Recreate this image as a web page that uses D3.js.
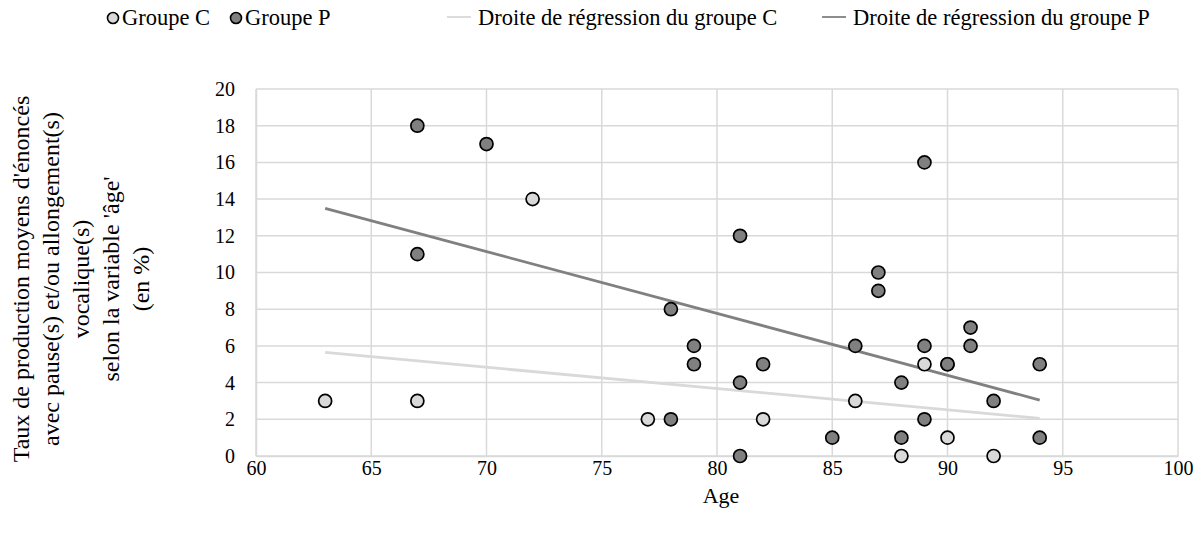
<!DOCTYPE html>
<html><head><meta charset="utf-8">
<script src="https://cdn.jsdelivr.net/npm/d3@7/dist/d3.min.js"></script>
<style>body{margin:0;background:#fff}svg{display:block}text{font-family:"Liberation Serif","Times New Roman",serif;fill:#000}</style>
</head><body><svg id="c" width="1202" height="533"></svg>
<script>
const xTicks = [60,65,70,75,80,85,90,95,100];
const yTicks = [0,2,4,6,8,10,12,14,16,18,20];
const groupC_age = [63,67,72,77,82,86,88,89,90,92];
const groupC_val = [3,3,14,2,2,3,0,5,1,0];
const groupP_age = [67,70,67,78,79,79,78,81,81,81,82,85,86,87,87,88,88,89,89,89,90,90,91,91,92,94,94];
const groupP_val = [18,17,11,8,6,5,2,12,4,0,5,1,6,10,9,4,1,16,6,2,5,5,7,6,3,5,1];
const regC_age = [63,94];
const regC_val = [5.65,2.05];
const regP_age = [63,94];
const regP_val = [13.5,3.05];
const legendLabels = ["Groupe C","Groupe P","Droite de régression du groupe C","Droite de régression du groupe P"];
const yTitle = ["Taux de production moyens d'énoncés","avec pause(s) et/ou allongement(s)","vocalique(s)","selon la variable 'âge'","(en %)"];
const xTitle = "Age";

const svg = d3.select("#c");
const x = d3.scaleLinear().domain([60,100]).range([256,1178]);
const y = d3.scaleLinear().domain([0,20]).range([456,89]);
const grid = "#d9d9d9", lightFill = "#d9d9d9", darkFill = "#808080";

// grid
svg.append("g").selectAll("line").data(xTicks).join("line")
  .attr("x1",d=>x(d)).attr("x2",d=>x(d)).attr("y1",y(0)).attr("y2",y(20))
  .attr("stroke",grid).attr("stroke-width",1.5);
svg.append("g").selectAll("line").data(yTicks).join("line")
  .attr("x1",x(60)).attr("x2",x(100)).attr("y1",d=>y(d)).attr("y2",d=>y(d))
  .attr("stroke",grid).attr("stroke-width",1.5);

// axes
const xa = svg.append("g").attr("transform",`translate(0,${y(0)})`)
  .call(d3.axisBottom(x).tickValues(xTicks).tickSize(0).tickPadding(5));
const ya = svg.append("g").attr("transform",`translate(${x(60)},0)`)
  .call(d3.axisLeft(y).tickValues(yTicks).tickSize(0).tickPadding(21));
[xa,ya].forEach(a=>{a.select(".domain").attr("stroke",grid).attr("stroke-width",1.5);
  a.selectAll("text").style("font-family",'"Liberation Serif",serif').style("font-size","20px").attr("fill","#000");});

// regression lines
const line = d3.line().x(d=>x(d[0])).y(d=>y(d[1]));
svg.append("path").datum(regC_age.map((a,i)=>[a,regC_val[i]])).attr("d",line)
  .attr("stroke",lightFill).attr("stroke-width",2.8).attr("fill","none");
svg.append("path").datum(regP_age.map((a,i)=>[a,regP_val[i]])).attr("d",line)
  .attr("stroke",darkFill).attr("stroke-width",2.8).attr("fill","none");

// points
svg.append("g").selectAll("circle").data(groupC_age.map((a,i)=>[a,groupC_val[i]])).join("circle")
  .attr("cx",d=>x(d[0])).attr("cy",d=>y(d[1])).attr("r",6.5)
  .attr("fill",lightFill).attr("stroke","#000").attr("stroke-width",1.7);
svg.append("g").selectAll("circle").data(groupP_age.map((a,i)=>[a,groupP_val[i]])).join("circle")
  .attr("cx",d=>x(d[0])).attr("cy",d=>y(d[1])).attr("r",6.5)
  .attr("fill",darkFill).attr("stroke","#000").attr("stroke-width",1.7);

// titles
svg.append("text").attr("x",(x(60)+x(100))/2+4).attr("y",503).attr("text-anchor","middle")
  .style("font-size","22px").text(xTitle);
const yt = svg.append("text").attr("transform","translate(0,279) rotate(-90)").attr("text-anchor","middle").style("font-size","24px");
yTitle.forEach((t,i)=>yt.append("tspan").attr("x",0).attr("y",29+i*30).text(t));

// legend
const lg = svg.append("g").style("font-size","22.5px");
const pts = [[113,lightFill],[236,darkFill]];
pts.forEach((p,i)=>{
  lg.append("circle").attr("cx",p[0]).attr("cy",18).attr("r",5.5).attr("fill",p[1]).attr("stroke","#000").attr("stroke-width",1.6);
  lg.append("text").attr("x",p[0]+9).attr("y",25).text(legendLabels[i]);
});
const lns = [[447,lightFill],[822,darkFill]];
lns.forEach((p,i)=>{
  lg.append("line").attr("x1",p[0]).attr("x2",p[0]+24).attr("y1",17).attr("y2",17).attr("stroke",p[1]).attr("stroke-width",1.8);
  lg.append("text").attr("x",p[0]+31).attr("y",25).text(legendLabels[i+2]);
});
</script></body></html>
